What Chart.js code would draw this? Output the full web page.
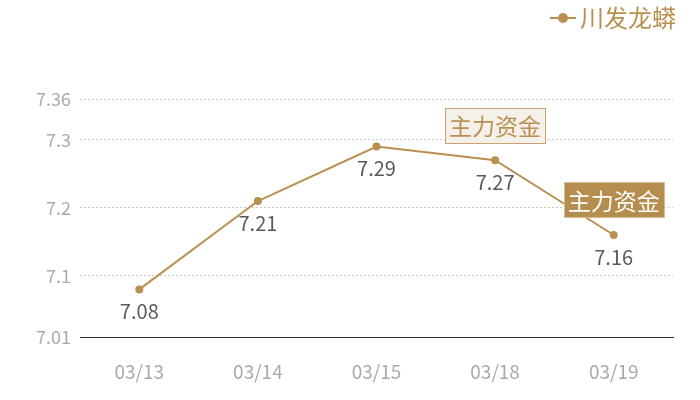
<!DOCTYPE html>
<html>
<head>
<meta charset="utf-8">
<script src="https://cdn.jsdelivr.net/npm/chart.js@4/dist/chart.umd.min.js"></script>
<style>
html,body{margin:0;padding:0;background:#fff;}
#wrap{width:700px;height:400px;position:relative;}
</style>
</head>
<body>
<div id="wrap"><canvas id="c"></canvas></div>
<script>
const categories = ['03/13','03/14','03/15','03/18','03/19'];
const seriesName = '川发龙蟒';
const values = [7.08, 7.21, 7.29, 7.27, 7.16];
const yTickValues = [7.01, 7.1, 7.2, 7.3, 7.36];
const yMin = 7.01, yMax = 7.36;
const calloutText = '主力资金';
const calloutIndices = [3, 4];

const TAN = '#b8904f';
const FONT = '"Noto Sans CJK SC", "Noto Sans", sans-serif';

const extrasPlugin = {
  id: 'extras',
  afterDatasetsDraw(chart) {
    const ctx = chart.ctx;
    const meta = chart.getDatasetMeta(0);
    ctx.save();
    ctx.font = '20px ' + FONT;
    ctx.fillStyle = '#5a5a5a';
    ctx.textAlign = 'center';
    ctx.textBaseline = 'middle';
    meta.data.forEach((pt, i) => {
      ctx.fillText(values[i].toFixed(2), pt.x, pt.y + 22);
    });
    ctx.font = '23px ' + FONT;
    calloutIndices.forEach((idx, k) => {
      const pt = meta.data[idx];
      const w = 100, h = 35;
      const cx = pt.x, cy = pt.y - 35;
      const x0 = Math.round(cx - w / 2) + 0.5, y0 = Math.round(cy - h / 2) + 0.5;
      const dark = k === calloutIndices.length - 1;
      ctx.fillStyle = dark ? '#b58d4e' : '#f4f0ea';
      ctx.fillRect(x0, y0, w, h);
      ctx.strokeStyle = dark ? '#d6bd92' : '#c9a36a';
      ctx.lineWidth = 1;
      ctx.strokeRect(x0, y0, w, h);
      ctx.fillStyle = dark ? '#ffffff' : '#b8904f';
      ctx.fillText(calloutText, cx, cy + 1);
    });
    ctx.restore();
  },
  afterDraw(chart) {
    const ctx = chart.ctx;
    ctx.save();
    ctx.font = '24px ' + FONT;
    ctx.textAlign = 'right';
    ctx.textBaseline = 'middle';
    ctx.fillStyle = TAN;
    const label = chart.data.datasets[0].label;
    const right = 676, cy = 18;
    const tw = ctx.measureText(label).width;
    const tx = right - tw;
    ctx.fillText(label, right, cy);
    ctx.strokeStyle = TAN;
    ctx.lineWidth = 2;
    ctx.beginPath();
    ctx.moveTo(tx - 30, cy);
    ctx.lineTo(tx - 4, cy);
    ctx.stroke();
    ctx.beginPath();
    ctx.arc(tx - 17, cy, 5, 0, Math.PI * 2);
    ctx.fill();
    ctx.restore();
  }
};

new Chart(document.getElementById('c'), {
  type: 'line',
  data: {
    labels: categories,
    datasets: [{
      label: seriesName,
      data: values,
      borderColor: TAN,
      backgroundColor: TAN,
      borderWidth: 2,
      pointRadius: 4,
      pointBackgroundColor: TAN,
      pointBorderWidth: 0,
      tension: 0,
      fill: false
    }]
  },
  options: {
    responsive: true,
    maintainAspectRatio: false,
    animation: false,
    events: [],
    layout: { padding: { top: 99, right: 27, left: 0, bottom: 0 } },
    plugins: { legend: { display: false }, tooltip: { enabled: false } },
    scales: {
      x: {
        offset: true,
        grid: { display: false, drawTicks: false },
        border: { display: true, color: '#333333', width: 1 },
        ticks: { color: '#aaaaaa', font: { size: 19, family: FONT }, padding: 23 },
        afterFit(s) { s.height = 63; }
      },
      y: {
        min: yMin,
        max: yMax,
        afterBuildTicks(s) { s.ticks = yTickValues.map(v => ({ value: v })); },
        afterFit(s) { s.width = 80; },
        border: { display: false, dash: [2, 2] },
        grid: {
          drawTicks: false,
          color: c => (c.tick && c.tick.value === yMin) ? 'rgba(0,0,0,0)' : '#c8c8c8',
          lineWidth: 1
        },
        ticks: {
          color: '#aaaaaa',
          font: { size: 18, family: FONT },
          padding: 9,
          callback: v => String(v)
        }
      }
    }
  },
  plugins: [extrasPlugin]
});
</script>
</body>
</html>
